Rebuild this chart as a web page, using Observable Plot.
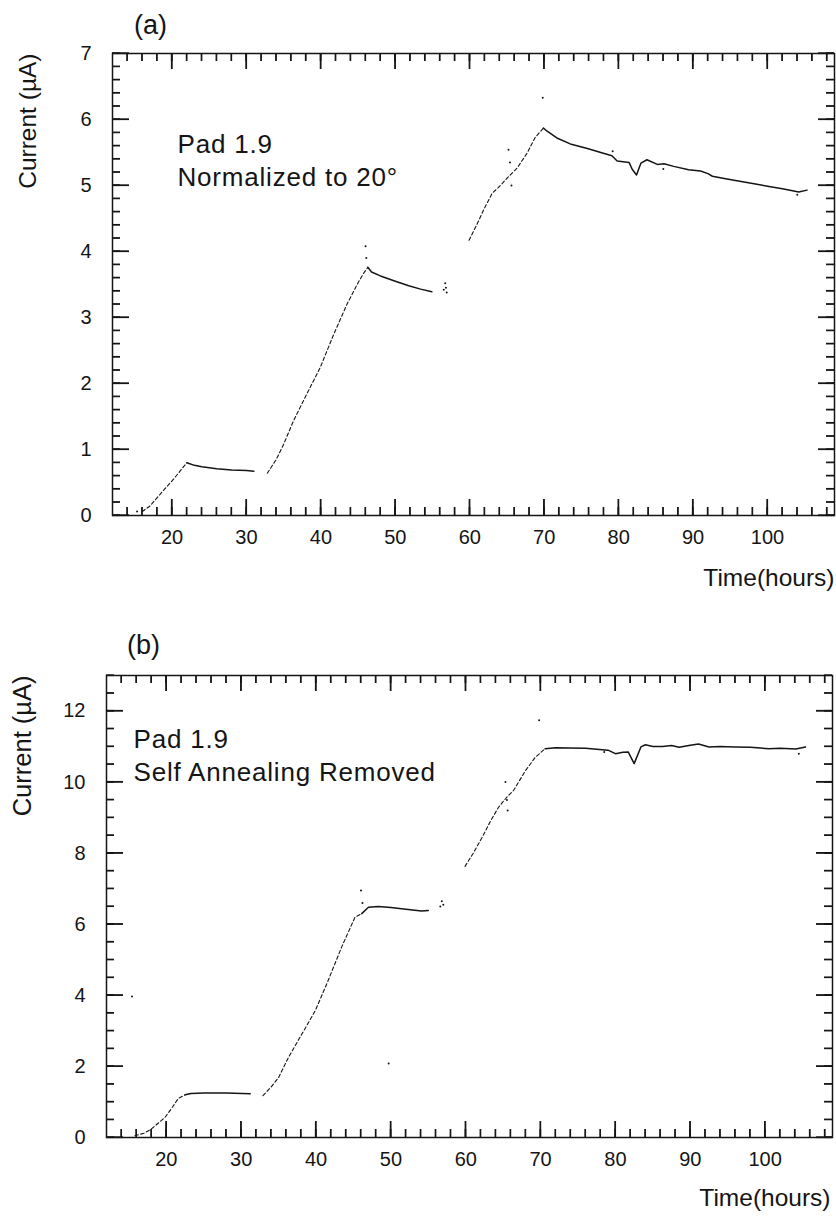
<!DOCTYPE html>
<html><head><meta charset="utf-8">
<script src="https://cdn.jsdelivr.net/npm/d3@7"></script>
<script src="https://cdn.jsdelivr.net/npm/@observablehq/plot@0.6"></script>
<style>
body{margin:0;background:#fff;}
#chart{width:836px;}
#chart svg{display:block;}
</style></head><body><div id="chart"></div>
<script>
// ---------- Panel (a): normalized to 20 degrees ----------
const aTime = [16.0,17.0,18.0,19.0,20.2,21.2,22.0,23.0,24.0,26.0,28.0,30.0,31.0,
  32.8,34.0,35.0,36.3,38.1,39.9,41.7,43.5,45.1,45.8,46.3,46.8,48.0,50.0,51.8,53.4,54.9,
  59.9,61.0,61.9,63.0,64.1,65.0,66.4,67.7,68.8,69.9,70.2,71.7,73.5,75.8,77.6,79.1,79.8,81.4,81.8,82.4,83.0,83.8,85.2,86.1,87.4,89.4,91.0,92.0,92.6,94.0,95.5,98.0,100.0,102.0,104.2,105.3];
const aCurrent = [0.06,0.14,0.27,0.40,0.55,0.69,0.80,0.76,0.74,0.71,0.69,0.68,0.67,
  0.64,0.85,1.08,1.43,1.84,2.24,2.74,3.20,3.55,3.68,3.76,3.69,3.63,3.55,3.48,3.43,3.39,
  4.17,4.42,4.64,4.88,5.00,5.11,5.27,5.49,5.73,5.87,5.84,5.72,5.63,5.56,5.50,5.45,5.37,5.35,5.25,5.16,5.34,5.39,5.32,5.33,5.29,5.24,5.22,5.18,5.14,5.11,5.08,5.03,4.99,4.95,4.90,4.93];
const aRun = [1,1,1,1,1,1,1,1,1,1,1,1,1,
  2,2,2,2,2,2,2,2,2,2,2,2,2,2,2,2,2,
  3,3,3,3,3,3,3,3,3,3,3,3,3,3,3,3,3,3,3,3,3,3,3,3,3,3,3,3,3,3,3,3,3,3,3,3];
const aIrradiating = [1,1,1,1,1,1,1,0,0,0,0,0,0,
  1,1,1,1,1,1,1,1,1,1,1,0,0,0,0,0,0,
  1,1,1,1,1,1,1,1,1,1,0,0,0,0,0,0,0,0,0,0,0,0,0,0,0,0,0,0,0,0,0,0,0,0,0,0];
const aStrayTime = [15.3,46.0,46.1,56.5,56.7,56.8,56.9,65.2,65.4,65.6,69.8,79.2,86.0,104.0];
const aStrayCurrent = [0.06,4.08,3.90,3.42,3.52,3.45,3.38,5.54,5.35,5.00,6.33,5.52,5.25,4.86];
const aYMajor = [0,1,2,3,4,5,6,7];

// ---------- Panel (b): self annealing removed ----------
const bTime = [15.8,17.0,18.0,19.0,19.8,20.8,21.6,22.5,23.3,25.0,28.0,31.2,
  32.9,34.0,35.0,36.3,38.1,39.9,41.6,43.4,45.2,46.1,47.0,48.3,50.0,52.0,54.1,55.0,
  59.9,61.0,62.2,63.3,64.4,65.5,66.4,68.0,69.3,70.6,72.0,73.7,76.0,79.0,80.0,81.0,81.7,82.5,83.4,84.0,85.0,86.3,87.5,88.5,90.0,91.1,92.5,94.0,96.0,98.0,100.5,102.0,104.1,105.4];
const bCurrent = [0.05,0.12,0.24,0.42,0.56,0.85,1.10,1.20,1.24,1.25,1.25,1.23,
  1.18,1.42,1.69,2.25,2.91,3.57,4.41,5.35,6.20,6.30,6.48,6.50,6.47,6.42,6.37,6.39,
  7.63,8.00,8.45,8.90,9.30,9.58,9.77,10.33,10.70,10.94,10.97,10.96,10.95,10.90,10.80,10.84,10.85,10.52,10.99,11.05,11.00,11.00,11.03,10.98,11.04,11.07,10.99,11.00,10.99,10.98,10.94,10.95,10.93,10.99];
const bRun = [1,1,1,1,1,1,1,1,1,1,1,1,
  2,2,2,2,2,2,2,2,2,2,2,2,2,2,2,2,
  3,3,3,3,3,3,3,3,3,3,3,3,3,3,3,3,3,3,3,3,3,3,3,3,3,3,3,3,3,3,3,3,3,3];
const bIrradiating = [1,1,1,1,1,1,1,1,0,0,0,0,
  1,1,1,1,1,1,1,1,1,1,0,0,0,0,0,0,
  1,1,1,1,1,1,1,1,1,1,0,0,0,0,0,0,0,0,0,0,0,0,0,0,0,0,0,0,0,0,0,0,0,0];
const bStrayTime = [15.4,46.0,46.2,49.7,56.6,56.8,57.0,65.3,65.5,65.6,69.8,78.5,104.5];
const bStrayCurrent = [3.97,6.95,6.60,2.08,6.50,6.65,6.55,10.00,9.50,9.20,11.74,10.85,10.80];
const bYMajor = [0,2,4,6,8,10,12];

// ---------- shared axis ticks ----------
const xDomain = [12, 109];
const xMajor = [20,30,40,50,60,70,80,90,100];
const xMinor = d3.range(14, 109, 2);
const xLabel = "Time(hours)";
const yLabel = "Current (\u00B5A)";

const FONT = "'Liberation Sans', Arial, Helvetica, sans-serif";
const INK = "#151515";

function panel(cfg) {
  const rows = cfg.time.map((t, i) => ({t, v: cfg.current[i], run: cfg.run[i], irr: cfg.irr[i]}));
  const ramp = rows.filter(r => r.irr === 1);
  const rest = [];
  for (const run of d3.union(rows.map(r => r.run))) {
    const rr = rows.filter(r => r.run === run);
    let last = -1;
    rr.forEach((r, i) => { if (r.irr === 1) last = i; });
    rest.push(...rr.slice(Math.max(last, 0)));
  }
  const strays = cfg.strayT.map((t, i) => ({t, v: cfg.strayV[i]}));
  const m = cfg.margin;
  const iw = cfg.width - m.left - m.right;
  const ih = cfg.height - m.top - m.bottom;
  const ky = (cfg.yDomain[1] - cfg.yDomain[0]) / ih;
  const kx = (xDomain[1] - xDomain[0]) / iw;
  const [yLo, yHi] = cfg.yDomain;
  const [xLo, xHi] = xDomain;
  const yMinor = d3.range(yLo, yHi + 1e-9, cfg.yMinorStep);
  const hw = 0.65; // half tick thickness in px
  // tick marks as thin filled rectangles (inside the frame, all four sides)
  const xTickRect = (vals, len, top) => Plot.rect(vals, {
    x1: d => d - hw * kx, x2: d => d + hw * kx,
    y1: () => top ? yHi - len * ky : yLo, y2: () => top ? yHi : yLo + len * ky,
    fill: INK, stroke: null
  });
  const yTickRect = (vals, len, right) => Plot.rect(vals, {
    y1: d => d - hw * ky, y2: d => d + hw * ky,
    x1: () => right ? xHi - len * kx : xLo, x2: () => right ? xHi : xLo + len * kx,
    fill: INK, stroke: null
  });

  const svg = Plot.plot({
    width: cfg.width, height: cfg.height,
    marginLeft: m.left, marginRight: m.right, marginTop: m.top, marginBottom: m.bottom,
    style: {fontFamily: FONT, background: "#fff", color: INK, overflow: "visible"},
    x: {domain: xDomain},
    y: {domain: cfg.yDomain},
    marks: [
      Plot.frame({stroke: INK, strokeWidth: 1.5}),
      xTickRect(xMajor, 16, false), xTickRect(xMinor, 8, false),
      xTickRect(xMajor, 16, true), xTickRect(xMinor, 8, true),
      yTickRect(cfg.yMajor, 17, false), yTickRect(yMinor, 8, false),
      yTickRect(cfg.yMajor, 16, true), yTickRect(yMinor, 8, true),
      Plot.ruleX(xMajor, {insetTop: ih - 16, stroke: INK, strokeWidth: 1.2}),
      Plot.ruleX(xMinor, {insetTop: ih - 8, stroke: INK, strokeWidth: 1.1}),
      Plot.ruleX(xMajor, {insetBottom: ih - 16, stroke: INK, strokeWidth: 1.2}),
      Plot.ruleX(xMinor, {insetBottom: ih - 8, stroke: INK, strokeWidth: 1.1}),
      Plot.ruleY(cfg.yMajor, {x1: xLo, x2: xLo + 17 * kx, stroke: INK, strokeWidth: 1.2}),
      Plot.ruleY(yMinor, {x1: xLo, x2: xLo + 8 * kx, stroke: INK, strokeWidth: 1.1}),
      Plot.ruleY(cfg.yMajor, {x1: xHi - 16 * kx, x2: xHi, stroke: INK, strokeWidth: 1.2}),
      Plot.ruleY(yMinor, {x1: xHi - 8 * kx, x2: xHi, stroke: INK, strokeWidth: 1.1}),
      Plot.axisX(xMajor, {anchor: "bottom", tickSize: 0, tickPadding: 14, fontSize: 20, label: null, tickFormat: d => String(d), fill: INK}),
      Plot.axisY(cfg.yMajor, {anchor: "left", tickSize: 0, tickPadding: 21, fontSize: 20, label: null, tickFormat: d => String(d), fill: INK}),
      // data
      Plot.line(ramp, {x: "t", y: "v", z: "run", stroke: INK, strokeWidth: 1.1, strokeDasharray: "3.5,2.5"}),
      Plot.line(rest, {x: "t", y: "v", z: "run", stroke: INK, strokeWidth: 1.5}),
      Plot.dot(strays, {x: "t", y: "v", r: 1, fill: INK, stroke: null}),
      // texts
      Plot.text([cfg.tag], {frameAnchor: "top-left", dx: cfg.tagDx, dy: cfg.tagDy, textAnchor: "middle", lineAnchor: "bottom", fontSize: 27, fill: INK}),
      Plot.text([cfg.note], {frameAnchor: "top-left", dx: cfg.noteDx, dy: cfg.noteDy, textAnchor: "start", lineAnchor: "bottom", lineHeight: 1.25, fontSize: 26, fill: INK}),
      Plot.text([yLabel], {frameAnchor: "top-left", dx: cfg.yLabDx, dy: 0, rotate: -90, textAnchor: "end", lineAnchor: "middle", fontSize: cfg.yLabSize, fill: INK}),
      Plot.text([xLabel], {frameAnchor: "bottom-right", dx: cfg.xLabDx, dy: cfg.xLabDy, textAnchor: "end", lineAnchor: "bottom", fontSize: 24.5, fill: INK})
    ]
  });
  svg.querySelectorAll("text").forEach(el => {
    if (/Pad|Normalized|Self/.test(el.textContent)) el.style.letterSpacing = "0.8px";
  });
  return svg;
}

const root = document.getElementById("chart");
root.appendChild(panel({
  time: aTime, current: aCurrent, run: aRun, irr: aIrradiating,
  strayT: aStrayTime, strayV: aStrayCurrent,
  yDomain: [0, 7], yMajor: aYMajor, yMinorStep: 0.2,
  width: 836, height: 600, margin: {left: 112, right: 2, top: 53, bottom: 85},
  tag: "(a)", tagDx: 38, tagDy: -20,
  note: "Pad 1.9\nNormalized to 20\u00B0", noteDx: 65, noteDy: 132,
  yLabDx: -84, yLabSize: 24.5, xLabDx: 0, xLabDy: 70
}));
root.appendChild(panel({
  time: bTime, current: bCurrent, run: bRun, irr: bIrradiating,
  strayT: bStrayTime, strayV: bStrayCurrent,
  yDomain: [0, 13], yMajor: bYMajor, yMinorStep: 0.5,
  width: 836, height: 617, margin: {left: 106, right: 4, top: 75, bottom: 80},
  tag: "(b)", tagDx: 37, tagDy: -22,
  note: "Pad 1.9\nSelf Annealing Removed", noteDx: 27, noteDy: 105,
  yLabDx: -84, yLabSize: 25.5, xLabDx: -2, xLabDy: 68
}));
</script></body></html>
